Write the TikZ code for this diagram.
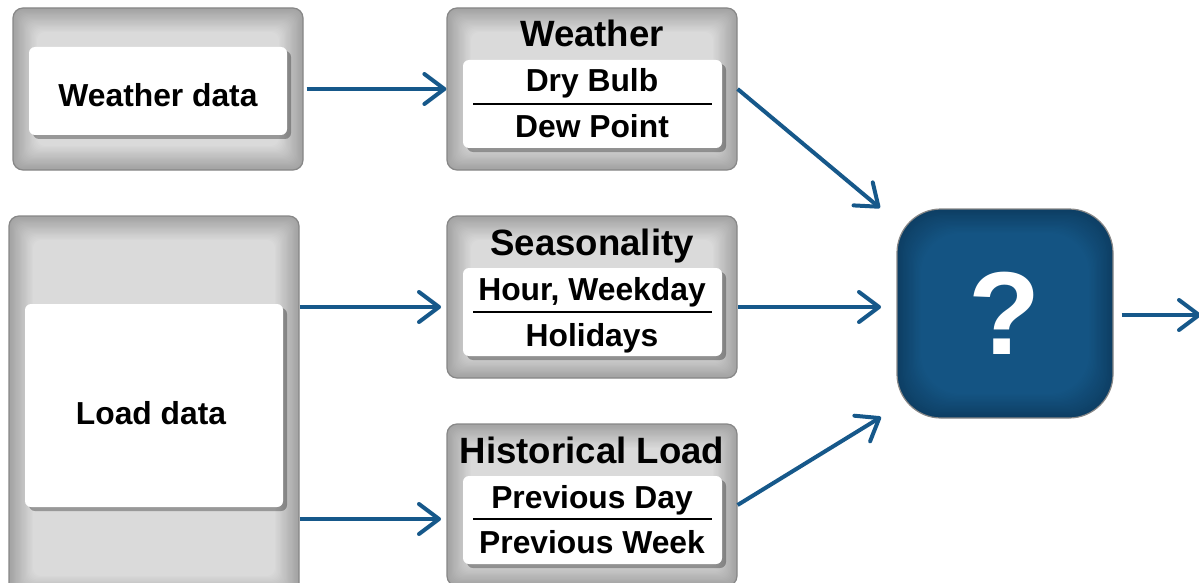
\documentclass[tikz,border=0pt]{standalone}
\usepackage{fontspec}
\setmainfont{Liberation Sans}
\usetikzlibrary{arrows.meta,calc,shadows}

\definecolor{arrowblue}{RGB}{22,88,138}
\definecolor{boxedge}{RGB}{162,162,162}
\definecolor{boxmid}{RGB}{218,218,218}
\definecolor{boxline}{RGB}{135,135,135}
\definecolor{modelmid}{RGB}{20,84,131}
\definecolor{modeledge}{RGB}{13,62,99}

\tikzset{
  vignette/.style n args={3}{path picture={
      \foreach \i [evaluate=\i as \p using int(\i*5)] in {1,...,20}
        \fill[#1!\p!#2, rounded corners=#3]
          ($(path picture bounding box.south west)+(\i*0.6pt,\i*0.6pt)$) rectangle
          ($(path picture bounding box.north east)-(\i*0.6pt,\i*0.6pt)$);}},
}

\begin{document}
\begin{tikzpicture}[x=0.5pt, y=-0.5pt,
    graybox/.style = {draw=boxline, line width=0.6pt, rounded corners=5pt, fill=boxedge,
                      inner sep=0pt, minimum width=145pt, minimum height=81pt,
                      vignette={boxmid}{boxedge}{4pt}},
    whitebox/.style = {fill=white, rounded corners=3pt, inner sep=0pt,
                       minimum width=129pt, minimum height=44pt,
                       drop shadow={shadow xshift=2pt, shadow yshift=-2pt, fill=black, opacity=0.3}},
    model/.style = {draw=boxline, line width=0.6pt, rounded corners=22pt, fill=modeledge,
                    inner sep=0pt, minimum width=108pt, minimum height=104.5pt,
                    vignette={modelmid}{modeledge}{20pt}, text=white,
                    font=\bfseries\fontsize{59}{60}\selectfont},
    title/.style = {anchor=base, font=\bfseries\fontsize{18.3}{21}\selectfont},
    item/.style = {anchor=base, font=\bfseries\fontsize{15.9}{18}\selectfont},
    sep/.style = {line width=1pt},
    arrow/.style = {draw=arrowblue, line width=2pt, -{Straight Barb[length=10pt, width=15pt, round]}}]

  \useasboundingbox (0,0) rectangle (1199,583);
  \clip (0,0) rectangle (1199,583);

  % data sources
  \node [graybox] (wbox) at (158, 89){};
  \node [whitebox] (wdata) at (158, 91){};
  \node [item] (wtext) at (158, 106) {Weather data};

  \node [graybox, minimum height=192pt] (lbox) at (154, 408){};
  \node [whitebox, minimum height=101.5pt] (ldata) at (154, 405.5){};
  \node [item] (ltext) at (151, 424) {Load data};

  % features
  \node [graybox] (wfeat) at (592, 89){};
  \node [whitebox, minimum width=129.5pt] (wlist) at (592.5, 104){};
  \node [title] (wtitle) at (592, 47) {Weather};
  \node [item] (dry) at (592, 92) {Dry Bulb};
  \node [item] (dew) at (592, 138) {Dew Point};
  \coordinate (ws1) at (473, 104);
  \coordinate (ws2) at (712, 104);

  \node [graybox] (sfeat) at (592, 297){};
  \node [whitebox, minimum width=129.5pt] (slist) at (592.5, 312){};
  \node [title] (stitle) at (592, 255) {Seasonality};
  \node [item] (hour) at (592, 300) {Hour, Weekday};
  \node [item] (hol) at (592, 346) {Holidays};
  \coordinate (ss1) at (473, 312);
  \coordinate (ss2) at (712, 312);

  \node [graybox] (hfeat) at (592, 505){};
  \node [whitebox, minimum width=129.5pt] (hlist) at (592.5, 520){};
  \node [title] (htitle) at (592, 463) {Historical Load};
  \node [item] (pday) at (592, 508) {Previous Day};
  \node [item] (pweek) at (592, 553) {Previous Week};
  \coordinate (hs1) at (473, 519);
  \coordinate (hs2) at (712, 519);

  \draw [sep] (ws1) -- (ws2);
  \draw [sep] (ss1) -- (ss2);
  \draw [sep] (hs1) -- (hs2);

  % model
  \node [model] (model) at (1005, 313.5) {?};

  \coordinate (in1) at (880, 208);
  \coordinate (in3) at (881, 417);
  \coordinate (out) at (1201, 315);

  \draw [arrow, shorten <=1.5pt] (wbox.east) -- (wfeat.west);
  \draw [arrow] (lbox.east) ++(0,-101) -- (441, 307);
  \draw [arrow] (lbox.east) ++(0,111) -- (441, 519);
  \draw [arrow] (wfeat.east) -- (in1);
  \draw [arrow] (sfeat.east) ++(0,10) -- (881, 307);
  \draw [arrow] (hfeat.east) -- (in3);
  \draw [arrow] (model.east) ++(8,1.5) -- (out);
\end{tikzpicture}
\end{document}
